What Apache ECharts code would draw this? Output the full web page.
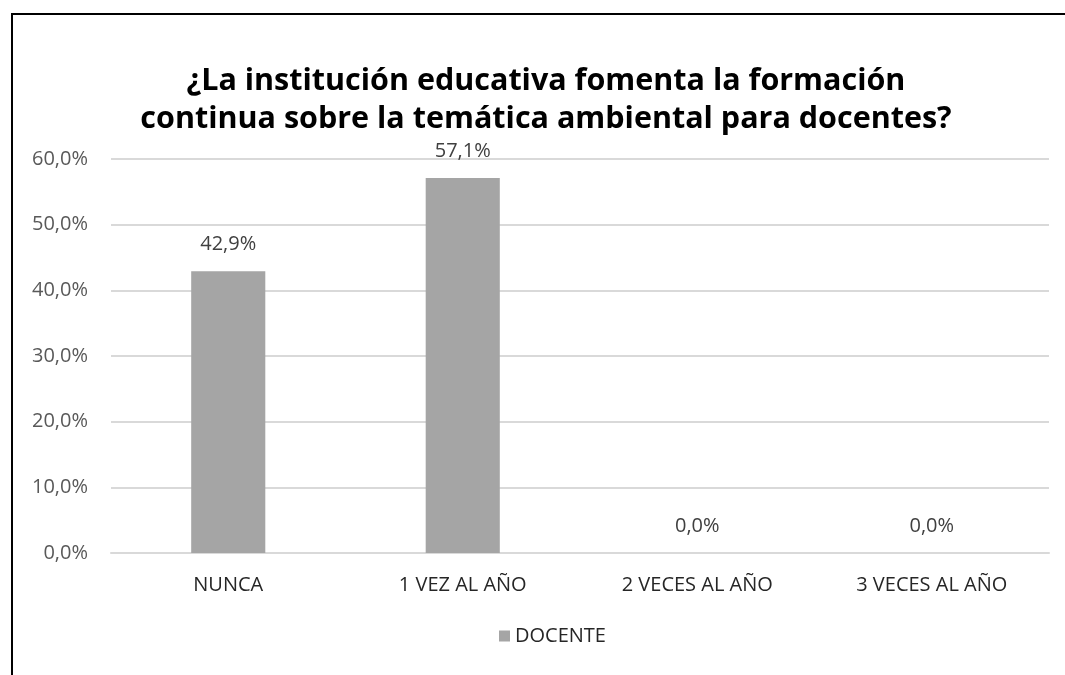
<!DOCTYPE html>
<html>
<head>
<meta charset="utf-8">
<script src="https://cdn.jsdelivr.net/npm/echarts@6/dist/echarts.min.js"></script>
<style>
  html, body { margin: 0; padding: 0; background: #fff; }
  #chart { width: 1065px; height: 675px; }
</style>
</head>
<body>
<div id="chart"></div>
<script>
// categorías y valores (porcentaje)
const categories = ["NUNCA", "1 VEZ AL AÑO", "2 VECES AL AÑO", "3 VECES AL AÑO"];
const docente = [42.9, 57.1, 0.0, 0.0];
const yTicks = [0, 10, 20, 30, 40, 50, 60];
const seriesName = "DOCENTE";
const titleText = "¿La institución educativa fomenta la formación\ncontinua sobre la temática ambiental para docentes?";

const font = "'Open Sans', 'Noto Sans', sans-serif";
const pct = (v) => v.toFixed(1).replace(".", ",") + "%";

const chart = echarts.init(document.getElementById("chart"), null, { renderer: "canvas" });
chart.setOption({
  backgroundColor: "#fff",
  animation: false,
  textStyle: { fontFamily: font },
  title: {
    text: titleText,
    left: 541, top: 57, textAlign: "center",
    textStyle: { fontSize: 30.5, fontWeight: "bold", color: "#000", lineHeight: 38, fontFamily: font },
  },
  graphic: [{
    type: "polyline",
    shape: { points: [[12, 675], [12, 14], [1065, 14]] },
    style: { stroke: "#000", lineWidth: 2, fill: null },
  }],
  legend: {
    data: [seriesName], bottom: 24, left: 494,
    icon: "rect", itemWidth: 11, itemHeight: 11, itemGap: 6,
    textStyle: { fontSize: 20, color: "#262626", fontFamily: font },
  },
  grid: { left: 111, right: 16, top: 159, bottom: 122, containLabel: false },
  xAxis: {
    type: "category", data: categories,
    axisLine: { show: true, lineStyle: { color: "#d9d9d9", width: 2 } },
    axisTick: { show: false },
    axisLabel: { color: "#262626", fontSize: 20, margin: 22, fontFamily: font },
  },
  yAxis: {
    type: "value", min: yTicks[0], max: yTicks[yTicks.length - 1], interval: 10,
    axisLine: { show: false }, axisTick: { show: false },
    splitLine: { lineStyle: { color: "#d9d9d9", width: 2 } },
    axisLabel: { color: "#595959", fontSize: 20, margin: 23, formatter: (v) => pct(v), fontFamily: font },
  },
  series: [{
    name: seriesName, type: "bar", data: docente, barWidth: "31.6%",
    itemStyle: { color: "#a5a5a5" },
    label: {
      show: true, position: "top", distance: 17,
      color: "#404040", fontSize: 20, fontFamily: font,
      formatter: (p) => pct(p.value),
    },
  }],
});
</script>
</body>
</html>
